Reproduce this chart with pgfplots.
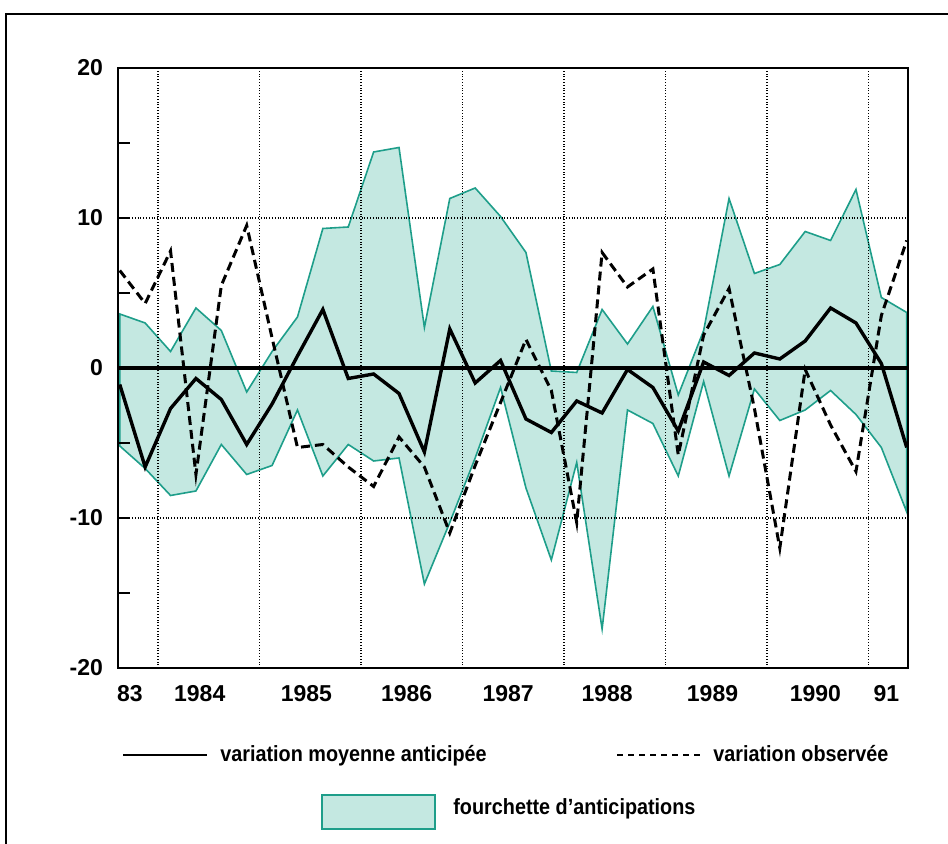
\documentclass[border=0pt]{standalone}
\usepackage{pgfplots}
\pgfplotsset{compat=1.18}
\usepackage{pgfplotstable}
\usepackage{fontspec}
\usepackage{graphicx}
\setmainfont{Liberation Sans}
\definecolor{bandfill}{RGB}{196,232,225}
\definecolor{bandline}{RGB}{30,158,138}
\newcommand\leg[1]{\scalebox{0.9}[1]{\fontsize{11}{13}\selectfont\bfseries #1}}

\pgfplotstableread{
i up lo moy obs
0 3.6 -5.2 -1.1 6.5
1 3.0 -6.7 -6.6 4.3
2 1.1 -8.5 -2.7 7.8
3 4.0 -8.2 -0.7 -7.1
4 2.5 -5.1 -2.1 5.5
5 -1.6 -7.1 -5.1 9.5
6 1.1 -6.5 -2.4 2.0
7 3.4 -2.8 0.8 -5.3
8 9.3 -7.2 3.9 -5.1
9 9.4 -5.1 -0.7 -6.6
10 14.4 -6.2 -0.4 -7.9
11 14.7 -6.0 -1.7 -4.6
12 2.7 -14.4 -5.6 -6.6
13 11.3 -10.3 2.6 -11.0
14 12.0 -6.0 -1.0 -6.5
15 10.1 -1.3 0.5 -2.3
16 7.7 -8.0 -3.4 1.9
17 -0.2 -12.8 -4.3 -1.5
18 -0.3 -6.3 -2.2 -10.3
19 3.9 -17.4 -3.0 7.7
20 1.6 -2.8 -0.1 5.4
21 4.1 -3.7 -1.3 6.6
22 -1.8 -7.2 -4.2 -5.8
23 2.5 -0.9 0.4 2.2
24 11.3 -7.2 -0.5 5.3
25 6.3 -1.4 1.0 -2.7
26 6.9 -3.5 0.6 -12.0
27 9.1 -2.8 1.8 -0.1
28 8.5 -1.5 4.0 -3.8
29 11.9 -3.1 3.0 -6.9
30 4.7 -5.3 0.3 3.5
31 3.7 -9.6 -5.3 8.5
}\data

\pgfplotstableread{
x y
0 3.6
1 3.0
2 1.1
3 4.0
4 2.5
5 -1.6
6 1.1
7 3.4
8 9.3
9 9.4
10 14.4
11 14.7
12 2.7
13 11.3
14 12.0
15 10.1
16 7.7
17 -0.2
18 -0.3
19 3.9
20 1.6
21 4.1
22 -1.8
23 2.5
24 11.3
25 6.3
26 6.9
27 9.1
28 8.5
29 11.9
30 4.7
31 3.7
31 -9.6
30 -5.3
29 -3.1
28 -1.5
27 -2.8
26 -3.5
25 -1.4
24 -7.2
23 -0.9
22 -7.2
21 -3.7
20 -2.8
19 -17.4
18 -6.3
17 -12.8
16 -8.0
15 -1.3
14 -6.0
13 -10.3
12 -14.4
11 -6.0
10 -6.2
9 -5.1
8 -7.2
7 -2.8
6 -6.5
5 -7.1
4 -5.1
3 -8.2
2 -8.5
1 -6.7
0 -5.2
}\band

\begin{document}
\begin{tikzpicture}
\useasboundingbox (-59pt,-88pt) rectangle (415pt,334pt);
\draw[line width=0.6pt] (-56pt,-88pt) -- (-56pt,327pt) -- (415pt,327pt);
\begin{axis}[
  at={(0pt,0pt)}, anchor=south west,
  scale only axis, width=395pt, height=300pt,
  xmin=-0.07, xmax=31.05, ymin=-20, ymax=20,
  axis on top,
  axis line style={line width=1.2pt},
  xtick={0.4,3.15,7.35,11.3,15.3,19.2,23.35,27.4,30.2},
  xticklabels={83,1984,1985,1986,1987,1988,1989,1990,91},
  xtick pos=bottom,
  xtick style={draw=none},
  extra x ticks={1.5,5.5,9.5,13.5,17.5,21.5,25.5,29.5},
  extra x tick labels={},
  extra x tick style={grid=major, major tick length=0pt},
  ytick={-20,-10,0,10,20},
  yticklabels={-20,-10,0,10,20},
  minor ytick={-15,-5,5,15},
  ytick pos=left,
  tick align=inside,
  major tick length=6pt, minor tick length=6pt,
  ytick style={line width=0.9pt, black},
  extra y ticks={-10,10},
  extra y tick labels={},
  extra y tick style={grid=major},
  major grid style={densely dotted, line width=0.7pt, black},
  ticklabel style={font=\fontsize{11.5}{13}\selectfont\bfseries},
  xticklabel style={yshift=-5pt},
  yticklabel style={xshift=-4pt},
]
\addplot[fill=bandfill, draw=bandline, line width=0.8pt] table[x=x,y=y]{\band} -- cycle;
\addplot[black, line width=1.7pt] coordinates {(-0.07,0) (31.05,0)};
\addplot[black, line width=1.7pt, line join=miter] table[x=i,y=moy]{\data};
\addplot[black, line width=1.5pt, dash pattern=on 4.5pt off 2.5pt] table[x=i,y=obs]{\data};
\end{axis}
\draw[line width=1.2pt] (2.5pt,-43.5pt) -- (44.5pt,-43.5pt);
\node[anchor=base west, inner sep=0pt] at (51pt,-47pt) {\leg{variation moyenne anticipée}};
\draw[line width=1.1pt, dash pattern=on 3pt off 2.5pt] (249.5pt,-43.5pt) -- (291pt,-43.5pt);
\node[anchor=base west, inner sep=0pt] at (297.5pt,-47pt) {\leg{variation observée}};
\draw[fill=bandfill, draw=bandline, line width=0.8pt] (102pt,-80.5pt) rectangle (158.5pt,-63.5pt);
\node[anchor=base west, inner sep=0pt] at (167.5pt,-73.5pt) {\leg{fourchette d'anticipations}};
\end{tikzpicture}
\end{document}
